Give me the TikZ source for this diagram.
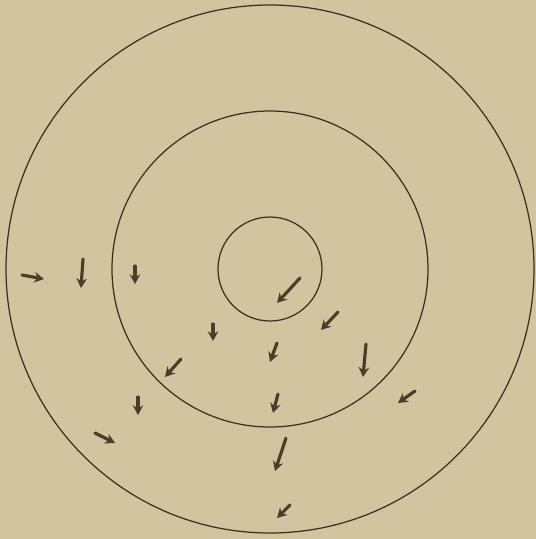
\documentclass[tikz,border=0pt]{standalone}
\usetikzlibrary{arrows.meta}
\definecolor{papier}{RGB}{210,196,158}
\definecolor{encre}{RGB}{58,48,32}
\definecolor{fleche}{RGB}{74,62,42}
\tikzset{
  cercle/.style={encre, line width=0.7pt},
  vecteur/.style={fleche, line width=1.8pt, line cap=round, -{Stealth[length=5.5pt,width=6pt]}}
}
\begin{document}
\begin{tikzpicture}[x=0.02cm, y=-0.02cm]
  % Fond
  \fill[papier] (0,0) rectangle (536,539);
  \useasboundingbox (0,0) rectangle (536,539);

  % Les trois cercles concentriques
  \draw[cercle] (270,269) circle (264);
  \draw[cercle] (270,269) circle (158);
  \draw[cercle] (270,269) circle (52);

  % Les flèches
  \foreach \xa/\ya/\xb/\yb in {
      22/275/44/279, 83/259/81/288, 135/266/135/284,
      300/278/277/303, 338/312/321/330, 213/324/213/341,
      277/343/270/362, 366/344/363/377, 415/391/398/403,
      181/359/165/377, 138/397/138/415, 278/394/273/413,
      95/433/115/443, 286/438/275/471, 290/505/277/518}
    \draw[vecteur] (\xa,\ya) -- (\xb,\yb);
\end{tikzpicture}
\end{document}
